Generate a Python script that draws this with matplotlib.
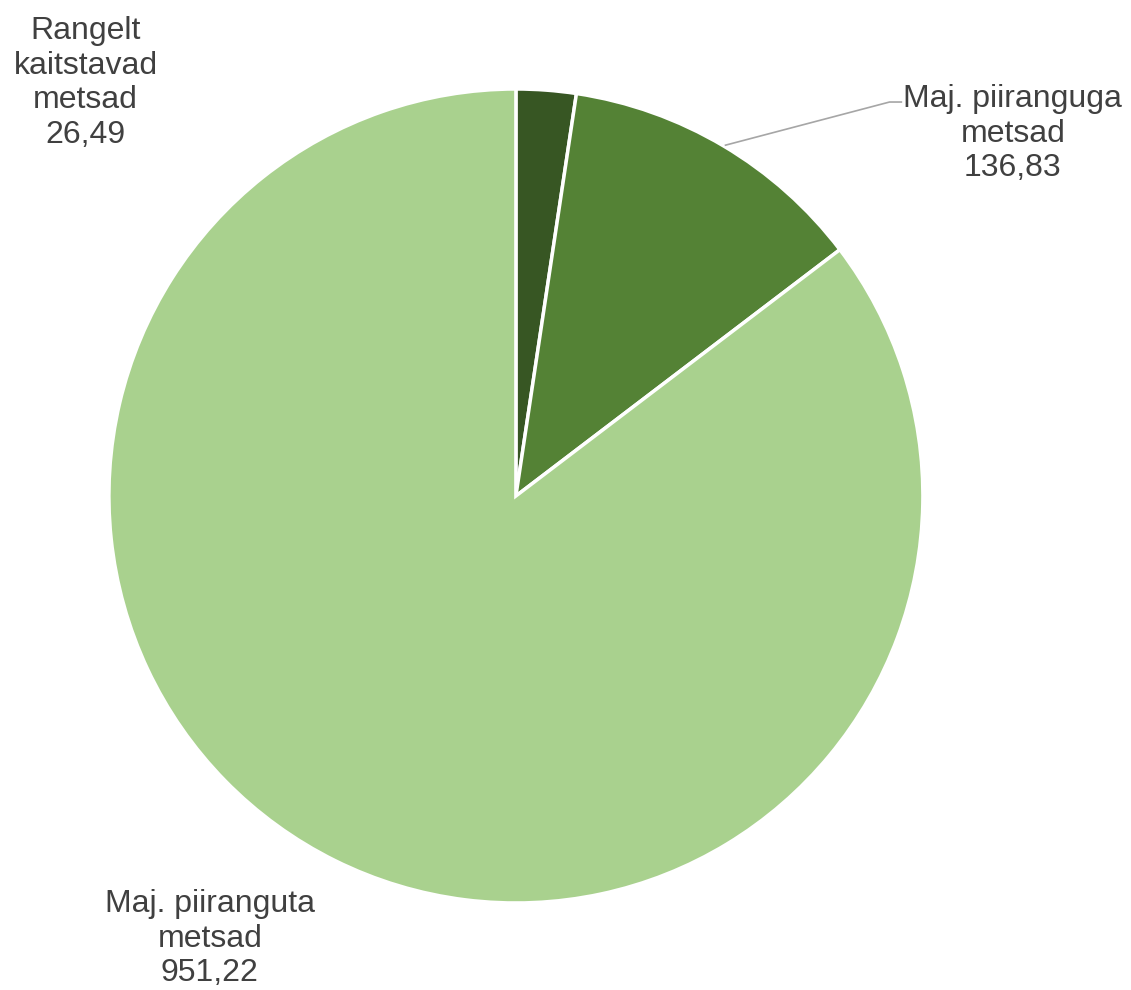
import matplotlib
matplotlib.use("Agg")
import matplotlib.pyplot as plt

# values (thousand ha)
categories = ["Rangelt\nkaitstavad\nmetsad", "Maj. piiranguga\nmetsad", "Maj. piiranguta\nmetsad"]
values = [26.49, 136.83, 951.22]
colors = ["#375623", "#548235", "#A9D18E"]

plt.rcParams['font.family'] = ['Liberation Sans', 'DejaVu Sans']

fig = plt.figure(figsize=(11.31, 9.9), dpi=100)
ax = fig.add_axes([0.0963, 0.0879, 0.7197, 0.8222])

ax.pie(values, colors=colors, startangle=90, counterclock=False,
       wedgeprops=dict(edgecolor="white", linewidth=2.5))
ax.set_xlim(-1, 1)
ax.set_ylim(-1, 1)
ax.set_axis_off()

def fmt(v):
    return f"{v:.2f}".replace(".", ",")

label_pos = [(-1.057, 1.015), (1.221, 0.89), (-0.752, -1.088)]
for name, v, (x, y) in zip(categories, values, label_pos):
    ax.text(x, y, name + "\n" + fmt(v), ha="center", va="center",
            fontsize=23, color="#404040", linespacing=1.2, clip_on=False)

# leader line for the middle slice
ax.plot([0.515, 0.918, 0.947], [0.862, 0.968, 0.968], color="#A6A6A6",
        linewidth=1.2, clip_on=False)

fig.savefig("out.png", dpi=100)
